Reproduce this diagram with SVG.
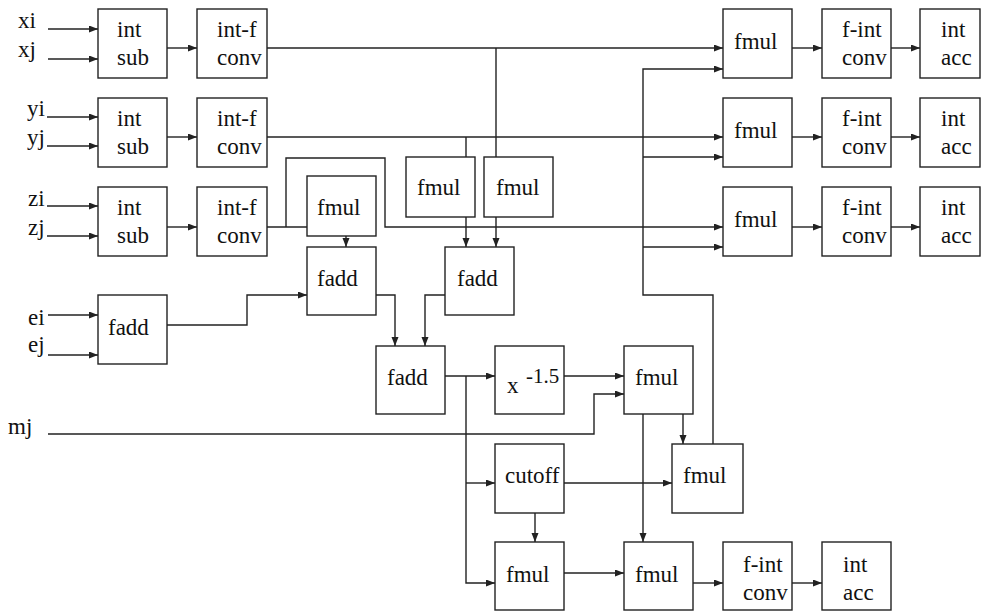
<svg xmlns="http://www.w3.org/2000/svg" width="981" height="612" viewBox="0 0 981 612">
<defs>
<marker id="arr" markerUnits="userSpaceOnUse" markerWidth="10" markerHeight="8" refX="9" refY="3.5" orient="auto">
<path d="M0,0 L9,3.5 L0,7 z" fill="#222"/>
</marker>
<style>
rect{fill:#fff;stroke:#222;stroke-width:1.4}
text{font-family:"Liberation Serif","Times New Roman",serif;font-size:23px;fill:#111}
.c path{fill:none;stroke:#222;stroke-width:1.4}
.a{marker-end:url(#arr)}
.sup{font-size:21px}
</style>
</defs>
<rect x="0" y="0" width="981" height="612" style="fill:#fff;stroke:none"/>
<g id="labels">
<text x="18" y="28">xi</text>
<text x="18" y="57">xj</text>
<text x="27" y="116">yi</text>
<text x="27" y="145">yj</text>
<text x="28" y="206">zi</text>
<text x="28" y="235">zj</text>
<text x="28" y="325">ei</text>
<text x="28" y="352">ej</text>
<text x="8" y="434">mj</text>
</g>
<g class="c" id="connectors">
<path class="a" d="M48,29 H98"/>
<path class="a" d="M48,59 H98"/>
<path class="a" d="M47,117 H98"/>
<path class="a" d="M47,146 H98"/>
<path class="a" d="M47,206 H98"/>
<path class="a" d="M47,236 H98"/>
<path class="a" d="M48,315 H98"/>
<path class="a" d="M48,355 H98"/>
<path class="a" d="M167,48 H197"/>
<path class="a" d="M167,137 H197"/>
<path class="a" d="M167,227 H197"/>
<path class="a" d="M267,48 H723"/>
<path d="M496,48 V157"/>
<path class="a" d="M267,137 H723"/>
<path d="M466,137 V157"/>
<path d="M267,227 H307"/>
<path class="a" d="M286,227 V158 H385 V227 H723"/>
<path class="a" d="M346,236 V247"/>
<path class="a" d="M466,217 V247"/>
<path class="a" d="M496,217 V247"/>
<path class="a" d="M167,325 H247 V295 H307"/>
<path class="a" d="M376,295 H395 V346"/>
<path class="a" d="M445,295 H425 V346"/>
<path class="a" d="M445,376 H495"/>
<path class="a" d="M466,376 V583 H495"/>
<path class="a" d="M466,483 H495"/>
<path class="a" d="M564,376 H624"/>
<path class="a" d="M48,434 H594 V394 H624"/>
<path class="a" d="M683,414 V444"/>
<path class="a" d="M643,414 V542"/>
<path class="a" d="M564,483 H672"/>
<path class="a" d="M535,513 V542"/>
<path class="a" d="M564,573 H624"/>
<path class="a" d="M693,583 H723"/>
<path class="a" d="M792,583 H822"/>
<path class="a" d="M713,444 V295 H643 V69 H723"/>
<path class="a" d="M643,157 H723"/>
<path class="a" d="M643,247 H723"/>
<path class="a" d="M792,48 H822"/>
<path class="a" d="M891,48 H920"/>
<path class="a" d="M792,137 H822"/>
<path class="a" d="M891,137 H920"/>
<path class="a" d="M792,227 H822"/>
<path class="a" d="M891,227 H920"/>
</g>
<g id="sub_x"><rect x="98" y="9" width="69" height="69"/><text x="117" y="37">int</text><text x="117" y="65">sub</text></g>
<g id="conv_x"><rect x="197" y="9" width="70" height="69"/><text x="217" y="37">int-f</text><text x="217" y="65">conv</text></g>
<g id="sub_y"><rect x="98" y="98" width="69" height="69"/><text x="117" y="126">int</text><text x="117" y="154">sub</text></g>
<g id="conv_y"><rect x="197" y="98" width="70" height="69"/><text x="217" y="126">int-f</text><text x="217" y="154">conv</text></g>
<g id="sub_z"><rect x="98" y="187" width="69" height="69"/><text x="117" y="215">int</text><text x="117" y="243">sub</text></g>
<g id="conv_z"><rect x="197" y="187" width="70" height="69"/><text x="217" y="215">int-f</text><text x="217" y="243">conv</text></g>
<g id="fmul_a"><rect x="307" y="176" width="69" height="60"/><text x="317" y="215">fmul</text></g>
<g id="fmul_b"><rect x="406" y="157" width="69" height="60"/><text x="417" y="195">fmul</text></g>
<g id="fmul_c"><rect x="484" y="157" width="69" height="60"/><text x="496" y="195">fmul</text></g>
<g id="fadd_a"><rect x="307" y="247" width="69" height="68"/><text x="317" y="286">fadd</text></g>
<g id="fadd_b"><rect x="445" y="247" width="69" height="68"/><text x="457" y="286">fadd</text></g>
<g id="fadd_e"><rect x="98" y="295" width="69" height="69"/><text x="108" y="335">fadd</text></g>
<g id="fadd_c"><rect x="376" y="346" width="69" height="68"/><text x="387" y="385">fadd</text></g>
<g id="pow"><rect x="495" y="346" width="69" height="68"/><text x="507" y="393">x</text><text class="sup" x="526" y="383">-1.5</text></g>
<g id="fmul_d"><rect x="624" y="346" width="69" height="68"/><text x="635" y="385">fmul</text></g>
<g id="fmul_e"><rect x="672" y="444" width="71" height="69"/><text x="683" y="483">fmul</text></g>
<g id="cutoff"><rect x="495" y="444" width="69" height="69"/><text x="505" y="483">cutoff</text></g>
<g id="fmul_f"><rect x="495" y="542" width="69" height="68"/><text x="506" y="582">fmul</text></g>
<g id="fmul_g"><rect x="624" y="542" width="69" height="68"/><text x="635" y="582">fmul</text></g>
<g id="fint_4"><rect x="723" y="542" width="69" height="68"/><text x="743" y="572">f-int</text><text x="743" y="600">conv</text></g>
<g id="acc_4"><rect x="822" y="542" width="69" height="68"/><text x="843" y="572">int</text><text x="843" y="600">acc</text></g>
<g id="fmul_r1"><rect x="723" y="9" width="69" height="69"/><text x="734" y="49">fmul</text></g>
<g id="fint_1"><rect x="822" y="9" width="69" height="69"/><text x="842" y="37">f-int</text><text x="842" y="65">conv</text></g>
<g id="acc_1"><rect x="920" y="9" width="60" height="69"/><text x="941" y="37">int</text><text x="941" y="65">acc</text></g>
<g id="fmul_r2"><rect x="723" y="98" width="69" height="69"/><text x="734" y="138">fmul</text></g>
<g id="fint_2"><rect x="822" y="98" width="69" height="69"/><text x="842" y="126">f-int</text><text x="842" y="154">conv</text></g>
<g id="acc_2"><rect x="920" y="98" width="60" height="69"/><text x="941" y="126">int</text><text x="941" y="154">acc</text></g>
<g id="fmul_r3"><rect x="723" y="187" width="69" height="69"/><text x="734" y="227">fmul</text></g>
<g id="fint_3"><rect x="822" y="187" width="69" height="69"/><text x="842" y="215">f-int</text><text x="842" y="243">conv</text></g>
<g id="acc_3"><rect x="920" y="187" width="60" height="69"/><text x="941" y="215">int</text><text x="941" y="243">acc</text></g>
</svg>
